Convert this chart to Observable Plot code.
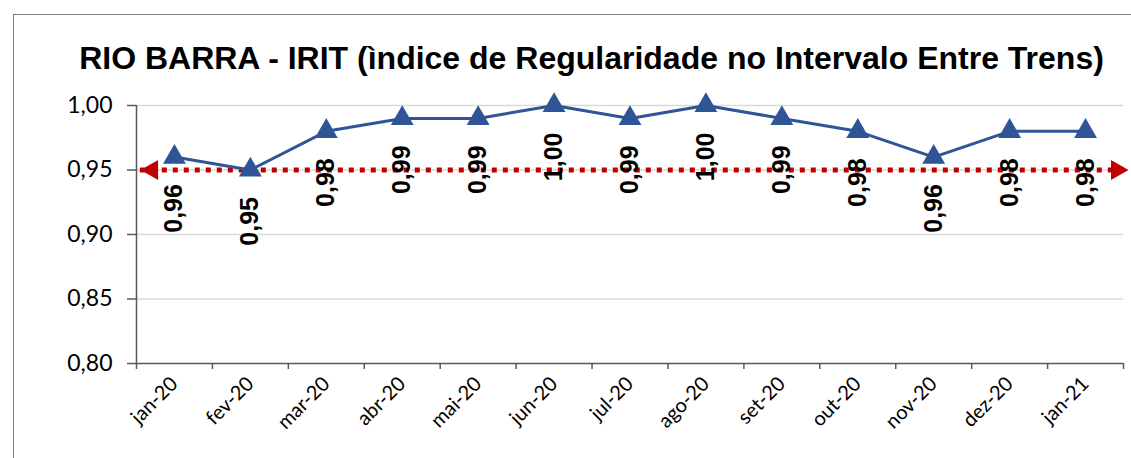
<!DOCTYPE html>
<html>
<head>
<meta charset="utf-8">
<script src="https://cdn.jsdelivr.net/npm/d3@7"></script>
<script src="https://cdn.jsdelivr.net/npm/@observablehq/plot@0.6"></script>
<style>
  html, body { margin: 0; padding: 0; background: #fff; }
  #wrap { position: relative; width: 1131px; height: 458px; overflow: hidden; }
  #frame { position: absolute; left: 13px; top: 14px; width: 1200px; height: 500px;
           border-left: 1.5px solid #7f7f7f; border-top: 1.5px solid #7f7f7f; }
  #title { position: absolute; left: 0; top: 42px; width: 1183px; text-align: center;
           font: bold 32px/32px "Liberation Sans", Arial, sans-serif; color: #000; white-space: nowrap; }
  #chart { position: absolute; left: 0; top: 0; }
</style>
</head>
<body>
<div id="wrap">
  <div id="frame"></div>
  <div id="title">RIO BARRA - IRIT (ìndice de Regularidade no Intervalo Entre Trens)</div>
  <div id="chart"></div>
</div>
<script>
const months = ["jan-20","fev-20","mar-20","abr-20","mai-20","jun-20","jul-20","ago-20","set-20","out-20","nov-20","dez-20","jan-21"];
const irit = [0.96,0.95,0.98,0.99,0.99,1.00,0.99,1.00,0.99,0.98,0.96,0.98,0.98];
const meta = 0.95;
const metaExtent = [0.55, 13.57];
const yTicks = [0.80,0.85,0.90,0.95,1.00];
const gridTicks = [0.85,0.90,0.95,1.00];

const data = months.map((m, i) => ({i: i + 1, month: m, v: irit[i]}));
const boundaries = d3.range(0.5, months.length + 1, 1);
const fmt = d => d.toFixed(2).replace(".", ",");

const blue = "#2F5597";
const red = "#C00000";
const axisColor = "#595959";

const plot = Plot.plot({
  width: 1131,
  height: 458,
  marginLeft: 136,
  marginRight: 8,
  marginTop: 105,
  marginBottom: 95,
  style: {background: "transparent", overflow: "visible"},
  x: {type: "linear", domain: [0.5, months.length + 0.5], axis: null},
  y: {domain: [0.80, 1.00], axis: null},
  marks: [
    Plot.gridY(gridTicks, {stroke: "#d9d9d9", strokeOpacity: 1, strokeWidth: 1.5}),
    Plot.ruleX([0.5], {stroke: axisColor, strokeWidth: 1.5}),
    Plot.ruleY([0.80], {stroke: axisColor, strokeWidth: 1.5}),
    Plot.axisY(yTicks, {tickSize: 9, tickPadding: 15, stroke: axisColor, strokeWidth: 1.5, label: null,
      tickFormat: fmt, fontSize: 23, fontFamily: "Lato, 'Open Sans', sans-serif", fill: "#000"}),
    Plot.axisX(boundaries, {tickSize: 6, stroke: axisColor, strokeWidth: 1.5, tickFormat: () => "", label: null}),
    Plot.axisX(d3.range(1, months.length + 1), {tickSize: 0, tickPadding: 17, tickRotate: -45, label: null,
      tickFormat: i => months[i - 1], fontSize: 20, fontFamily: "Lato, 'Open Sans', sans-serif", fill: "#000"}),
    Plot.ruleY([meta], {x1: metaExtent[0], x2: metaExtent[1], stroke: red, strokeWidth: 5,
      strokeDasharray: "5,6"}),
    Plot.dot([{x: metaExtent[0]}], {x: "x", y: () => meta, symbol: "triangle", r: 7.5,
      fill: red, stroke: "none", rotate: -90, dx: 12}),
    Plot.dot([{x: metaExtent[1]}], {x: "x", y: () => meta, symbol: "triangle", r: 7.5,
      fill: red, stroke: "none", rotate: 90, dx: -12}),
    Plot.line(data, {x: "i", y: "v", stroke: blue, strokeWidth: 3}),
    Plot.dot(data, {x: "i", y: "v", symbol: "triangle", r: 8.5, fill: blue, stroke: "none"}),
    Plot.text(data, {x: "i", y: "v", text: d => fmt(d.v), rotate: -90, textAnchor: "end",
      lineAnchor: "middle", dy: 27, fontSize: 25, fontWeight: "bold",
      fontFamily: "'Liberation Sans', Arial, sans-serif", fill: "#000"})
  ]
});
document.getElementById("chart").appendChild(plot);
</script>
</body>
</html>
